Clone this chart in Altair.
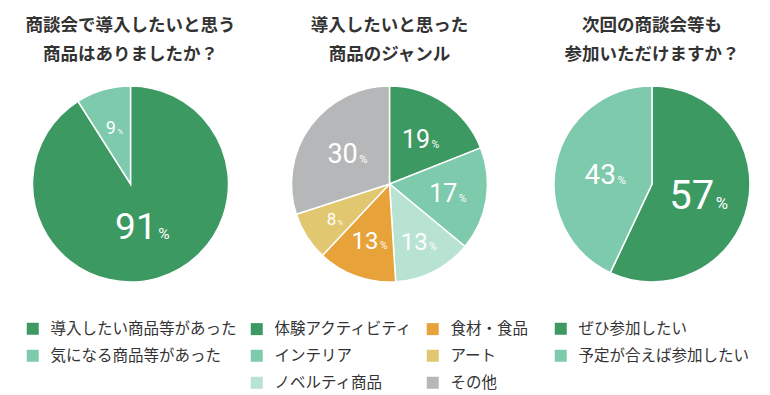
import altair as alt
import pandas as pd

# ---- data ----
titles = ["商談会で導入したいと思う\n商品はありましたか？",
          "導入したいと思った\n商品のジャンル",
          "次回の商談会等も\n参加いただけますか？"]
q1_labels = ["導入したい商品等があった", "気になる商品等があった"]
q1_values = [91, 9]
q2_labels = ["体験アクティビティ", "インテリア", "ノベルティ商品", "食材・食品", "アート", "その他"]
q2_values = [19, 17, 13, 13, 8, 30]
q3_labels = ["ぜひ参加したい", "予定が合えば参加したい"]
q3_values = [57, 43]

# ---- style ----
GREEN, TEAL, MINT, ORANGE, YELLOW, GRAY = "#3d9962", "#7dcaad", "#b8e2d1", "#e7a23a", "#e1c770", "#b6b7b9"
q1_colors = [GREEN, TEAL]
q2_colors = [GREEN, TEAL, MINT, ORANGE, YELLOW, GRAY]
q3_colors = [GREEN, TEAL]
label_sizes = [[37, 18], [25, 25, 24, 24, 17, 27], [40, 28]]
label_radius = [[43, 59], [55, 59, 64, 60, 65, 52], [48, 48]]

CX = [122.5, 381.5, 644.0]
CY = 176.0
R = 98
JP = "Noto Sans CJK JP"
NUMFONT = "Roboto"
TXT = "#333333"

pies = [(q1_labels, q1_values, q1_colors), (q2_labels, q2_values, q2_colors), (q3_labels, q3_values, q3_colors)]
rows = []
for p, (labs, vals, cols) in enumerate(pies):
    for k, (l, v) in enumerate(zip(labs, vals)):
        rows.append(dict(pie=p, k=k, cat=l, value=v, fs=label_sizes[p][k], lr=label_radius[p][k]))
df = pd.DataFrame(rows)

legend_pos = [(17, 313, 1), (241, 313, 2), (545, 313, 1)]

layers = []
for p, (labs, vals, cols) in enumerate(pies):
    d = df[df.pie == p]
    lx, ly, ncol = legend_pos[p]
    arc = alt.Chart(d).mark_arc(outerRadius=R, stroke="white", strokeWidth=1.5).encode(
        theta=alt.Theta("value:Q", stack=True),
        order=alt.Order("k:Q"),
        color=alt.Color("cat:N", scale=alt.Scale(domain=labs, range=cols),
                        legend=alt.Legend(orient="none", legendX=lx, legendY=ly, title=None,
                                          columns=ncol, symbolType="square", symbolSize=144,
                                          symbolStrokeWidth=0, symbolOpacity=1,
                                          labelFont=JP, labelFontSize=15.5, labelColor=TXT,
                                          labelLimit=400, rowPadding=10, columnPadding=10,
                                          labelOffset=10, padding=0)),
        x=alt.value(CX[p]), y=alt.value(CY),
    )
    layers.append(arc)

cx_expr = "[" + ",".join(str(c) for c in CX) + "][datum.pie]"
lab = alt.Chart(df).transform_window(
    cum="sum(value)", groupby=["pie"], sort=[alt.SortField("k")], frame=[None, 0]
).transform_joinaggregate(
    total="sum(value)", groupby=["pie"]
).transform_calculate(
    mid="2*PI*(datum.cum - datum.value/2)/datum.total",
    cx=cx_expr,
    ps="datum.fs*0.42",
    nd="length(toString(datum.value))",
).transform_calculate(
    lx="datum.cx + datum.lr*sin(datum.mid)",
    ly=f"{CY} - datum.lr*cos(datum.mid)",
    numw="datum.nd*0.562*datum.fs",
    pctw="0.85*datum.ps",
).transform_calculate(
    ax="datum.lx + (datum.numw - datum.pctw)/2",
    by="datum.ly + 0.36*datum.fs",
)

num = lab.mark_text(align="right", baseline="alphabetic", font=NUMFONT, fontWeight="normal", color="white").encode(
    x=alt.X("ax:Q", scale=None), y=alt.Y("by:Q", scale=None),
    size=alt.Size("fs:Q", scale=None), text=alt.Text("value:Q", format="d"))
pct = lab.transform_calculate(pt="'%'").mark_text(
    align="left", baseline="alphabetic", dx=1.5, font=NUMFONT, fontWeight="normal", color="white").encode(
    x=alt.X("ax:Q", scale=None), y=alt.Y("by:Q", scale=None),
    size=alt.Size("ps:Q", scale=None), text="pt:N")
layers += [num, pct]

tdf = pd.DataFrame({"pie": [0, 1, 2], "title": titles})
ttl = alt.Chart(tdf).transform_calculate(tx=cx_expr).mark_text(
    align="center", baseline="alphabetic", lineBreak="\n", lineHeight=29,
    font=JP, fontWeight="bold", fontSize=17.5, color=TXT).encode(
    x=alt.X("tx:Q", scale=None), y=alt.value(22.5), text="title:N")
layers.append(ttl)

chart = alt.layer(*layers).resolve_scale(theta="independent", color="independent").properties(
    width=754, height=385, padding=0, autosize="none", background="white"
).configure_view(stroke=None)

chart.save("out.html", embed_options={"renderer": "svg", "actions": False})
